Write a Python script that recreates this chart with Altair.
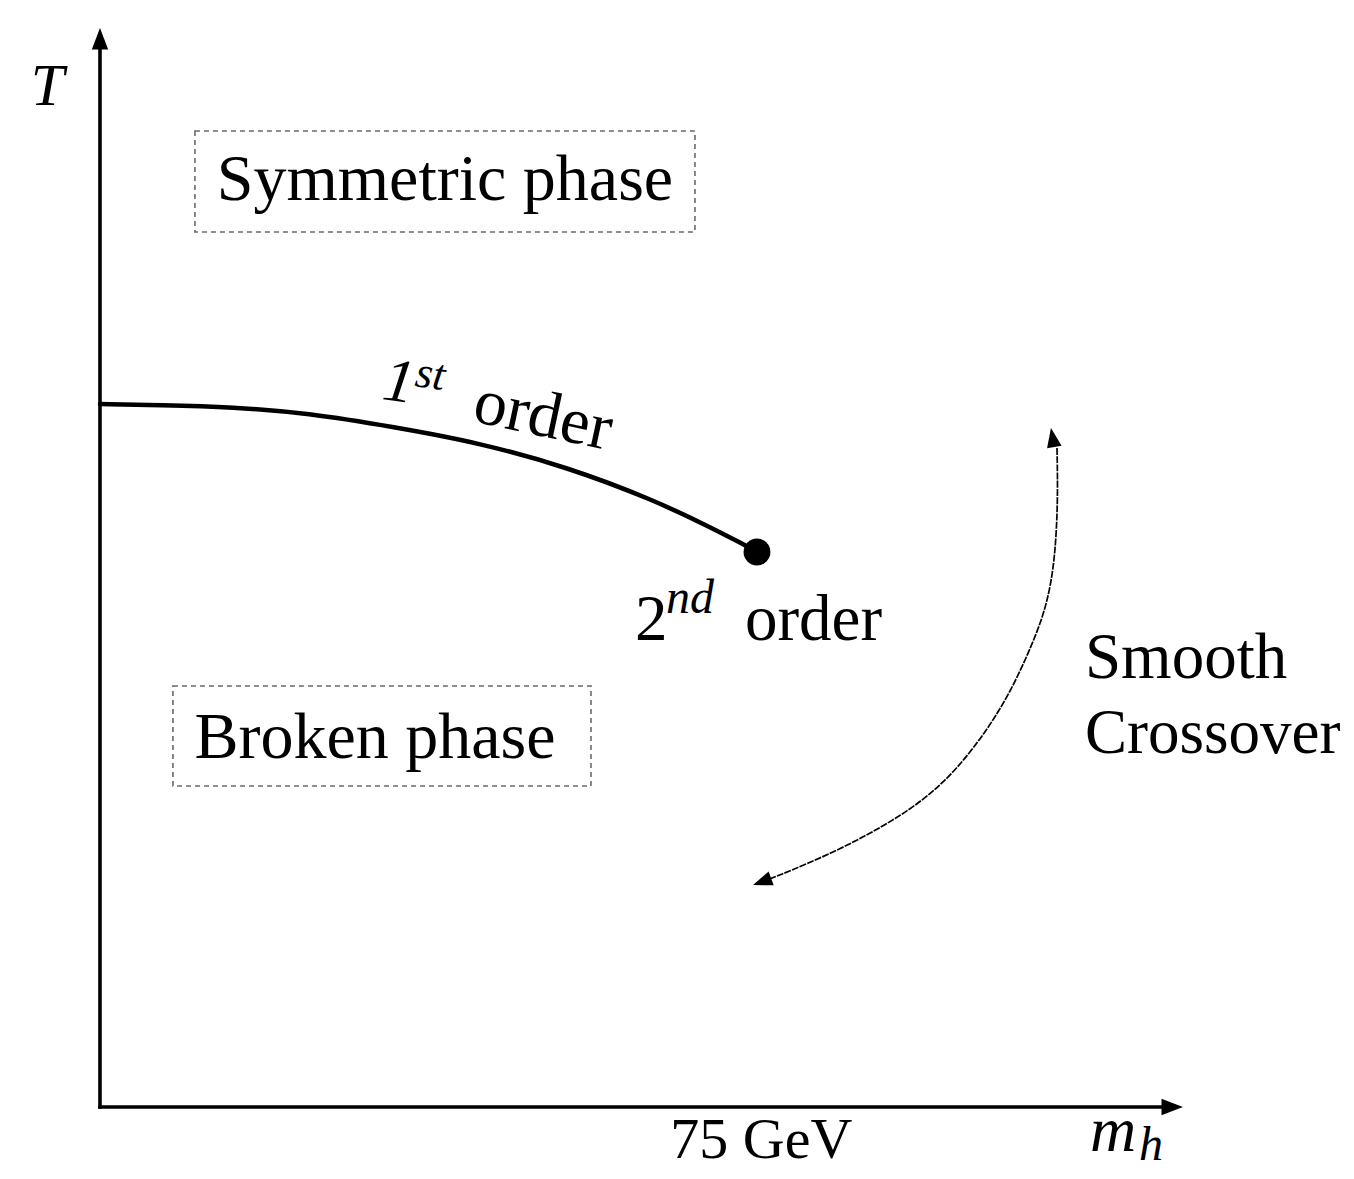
import altair as alt
import pandas as pd

# ---------------- data (m_h in GeV, T in arbitrary units, T_c(0) = 100) ----------------
X_DOMAIN = [-10.50, 142.24]
Y_DOMAIN = [-9.10, 156.33]

# first-order transition line
curve_mh = [0.0, 6.85, 15.18, 23.63, 33.56, 43.38, 53.31, 63.24, 69.63, 73.17, 75.0]
curve_T = [100.0, 99.86, 99.57, 98.72, 96.73, 94.45, 91.04, 86.34, 82.50, 80.23, 78.95]

# critical (2nd order) end point
end_mh = [75.0]
end_T = [78.95]

# smooth crossover double arrow (top -> bottom)
cross_mh = [109.25, 109.36, 109.02, 108.11, 106.51, 103.54, 99.66, 95.89, 91.32, 84.47, 76.83, 75.11]
cross_T = [93.74, 86.34, 77.81, 71.41, 66.00, 57.89, 50.78, 45.52, 41.25, 36.56, 32.57, 31.86]

# axes
axis_mh_max = 122.6
axis_T_max = 152.0

# arrow heads: tip position and direction (deg clockwise from up)
head_mh = [0.0, 123.63, 108.56, 74.54]
head_T = [153.49, 0.0, 96.59, 31.58]
head_angle = [0, 90, 350, 250]
head_kind = ["axis", "axis", "cross", "cross"]

# dashed label boxes
box_names = ["Symmetric phase", "Broken phase"]
box_mh0 = [10.84, 8.33]
box_mh1 = [67.92, 56.05]
box_T0 = [124.47, 45.66]
box_T1 = [138.83, 59.89]

# labels
up_center_text = ["Symmetric phase", "Broken phase"]
up_center_mh = [39.38, 31.39]
up_center_T = [129.02, 49.64]

tick_text = ["75 GeV"]
tick_mh = [75.5]
tick_T = [-7.25]

up_left_text = ["Smooth", "2", "order"]
up_left_mh = [112.44, 61.07, 73.63]
up_left_T = [61.02, 66.43, 66.43]

cross_label = ["Crossover"]
cross_label_mh = [112.44]
cross_label_T = [50.36]

it_text = ["T", "m"]
it_mh = [-7.9, 113.01]
it_T = [142.5, -6.3]
it_size = [60, 64]

sup_text = ["nd", "h"]
sup_mh = [64.61, 118.6]
sup_T = [70.27, -7.6]

first_text = ["1", "st", "order"]
first_mh = [32.08, 35.84, 42.35]
first_T = [100.71, 102.56, 97.58]
first_angle = [8, 8, 12]
first_size = [62, 44, 66]
first_italic = [True, True, False]

# ---------------- chart ----------------
W, H = 1338, 1163
FONT = "Liberation Serif"
xs = alt.Scale(domain=X_DOMAIN, nice=False, zero=False)
ys = alt.Scale(domain=Y_DOMAIN, nice=False, zero=False)


def X(f="mh"):
    return alt.X(f"{f}:Q", scale=xs, axis=None)


def Y(f="T"):
    return alt.Y(f"{f}:Q", scale=ys, axis=None)


boxes = alt.Chart(pd.DataFrame({"name": box_names, "mh": box_mh0, "mh2": box_mh1,
                                "T": box_T0, "T2": box_T1})).mark_rect(
    fill="white", fillOpacity=0, stroke="#6a6a6a", strokeWidth=1.6, strokeDash=[5, 4]
).encode(x=X(), x2="mh2:Q", y=Y(), y2="T2:Q")

axes_df = pd.DataFrame({"mh": [0.0, 0.0], "mh2": [0.0, axis_mh_max],
                        "T": [0.0, 0.0], "T2": [axis_T_max, 0.0]})
axes = alt.Chart(axes_df).mark_rule(color="black", strokeWidth=3.6, strokeCap="square").encode(
    x=X(), x2="mh2:Q", y=Y(), y2="T2:Q")

curve = alt.Chart(pd.DataFrame({"mh": curve_mh, "T": curve_T})).mark_line(
    color="black", strokeWidth=4.5, interpolate="basis", strokeCap="round"
).encode(x=X(), y=Y())

dot = alt.Chart(pd.DataFrame({"mh": end_mh, "T": end_T})).mark_point(
    filled=True, color="black", opacity=1, size=720, shape="circle"
).encode(x=X(), y=Y())

cross_df = pd.DataFrame({"mh": cross_mh, "T": cross_T, "i": list(range(len(cross_mh)))})
cross = alt.Chart(cross_df).mark_line(
    color="black", strokeWidth=1.7, interpolate="basis", strokeDash=[7, 1.2]
).encode(x=X(), y=Y(), order="i:Q")

heads_df = pd.DataFrame({"mh": head_mh, "T": head_T, "ang": head_angle, "kind": head_kind})
ARROW = "M0,0L-0.38,1L0.38,1Z"
axis_heads = alt.Chart(heads_df[heads_df["kind"] == "axis"]).mark_point(
    shape=ARROW, filled=True, color="black", opacity=1, size=1850
).encode(x=X(), y=Y(), angle=alt.Angle("ang:Q", scale=None))
cross_heads = alt.Chart(heads_df[heads_df["kind"] == "cross"]).mark_point(
    shape=ARROW, filled=True, color="black", opacity=1, size=1500
).encode(x=X(), y=Y(), angle=alt.Angle("ang:Q", scale=None))


def text_layer(texts, mh, T, align, size, italic=False, angle=None):
    df = pd.DataFrame({"label": texts, "mh": mh, "T": T})
    kw = dict(font=FONT, fontSize=size, align=align, baseline="alphabetic", color="black")
    if italic:
        kw["fontStyle"] = "italic"
    enc = dict(x=X(), y=Y(), text="label:N")
    if angle is not None:
        df["ang"] = angle
        enc["angle"] = alt.Angle("ang:Q", scale=None)
    return alt.Chart(df).mark_text(**kw).encode(**enc)


t1 = text_layer(up_center_text, up_center_mh, up_center_T, "center", 66)
t1b = text_layer(tick_text, tick_mh, tick_T, "center", 58)
t2 = text_layer(up_left_text, up_left_mh, up_left_T, "left", 65)
t2b = text_layer(cross_label, cross_label_mh, cross_label_T, "left", 63)
t3 = [text_layer([it_text[i]], [it_mh[i]], [it_T[i]], "left", it_size[i], italic=True)
      for i in range(len(it_text))]
t4 = text_layer(sup_text, sup_mh, sup_T, "left", 48, italic=True)

first_layers = []
for i in range(len(first_text)):
    first_layers.append(text_layer([first_text[i]], [first_mh[i]], [first_T[i]], "left",
                                   first_size[i], first_italic[i], [first_angle[i]]))

chart = alt.layer(
    boxes, axes, curve, dot, cross, axis_heads, cross_heads, t1, t1b, t2, t2b, *t3, t4,
    *first_layers
).properties(
    width=W, height=H, autosize=alt.AutoSizeParams(type="none"), padding=0,
    background="white"
).configure_view(stroke=None)

chart.save("out.html", embed_options={"renderer": "svg", "actions": False})
